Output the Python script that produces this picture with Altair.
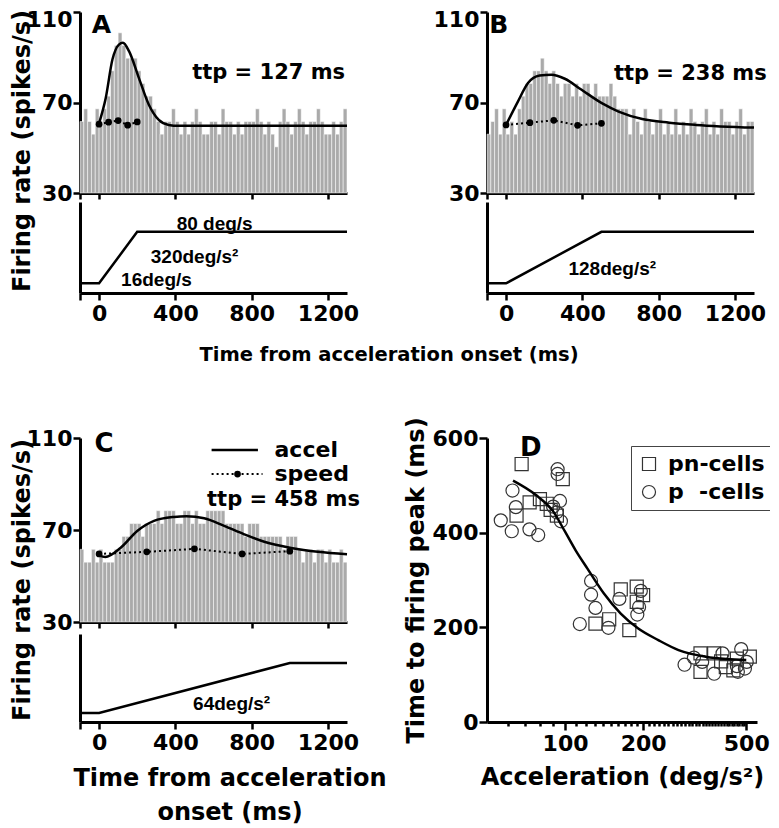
import altair as alt
import pandas as pd

FONT = "DejaVu Sans"
NARROW = "Liberation Sans"

# ---------------- data ----------------
bin_start = list(range(-100, 1300, 20))  # 20 ms bins

rate_A = [61.6, 67.2, 61.6, 56.0, 67.2, 61.6, 67.2, 72.8, 84.0, 95.2,
          100.8, 95.2, 89.6, 89.6, 89.6, 84.0, 78.4, 72.8, 72.8, 67.2,
          61.6, 56.0, 61.6, 61.6, 67.2, 61.6, 56.0, 61.6, 56.0, 61.6,
          67.2, 61.6, 56.0, 56.0, 61.6, 61.6, 56.0, 67.2, 61.6, 61.6,
          56.0, 61.6, 56.0, 61.6, 61.6, 61.6, 67.2, 61.6, 56.0, 61.6,
          56.0, 50.4, 61.6, 67.2, 61.6, 56.0, 61.6, 67.2, 61.6, 56.0,
          61.6, 61.6, 67.2, 61.6, 56.0, 56.0, 61.6, 56.0, 61.6, 67.2]
rate_B = [56.0, 61.6, 67.2, 56.0, 67.2, 56.0, 61.6, 56.0, 67.2, 72.8,
          78.4, 78.4, 84.0, 84.0, 89.6, 84.0, 78.4, 84.0, 78.4, 72.8,
          78.4, 78.4, 72.8, 78.4, 72.8, 78.4, 78.4, 72.8, 78.4, 72.8,
          72.8, 72.8, 78.4, 72.8, 67.2, 67.2, 67.2, 56.0, 67.2, 61.6,
          56.0, 67.2, 61.6, 56.0, 61.6, 67.2, 56.0, 61.6, 56.0, 67.2,
          56.0, 61.6, 56.0, 67.2, 61.6, 56.0, 61.6, 67.2, 56.0, 61.6,
          56.0, 67.2, 61.6, 61.6, 56.0, 61.6, 67.2, 56.0, 61.6, 61.6]
rate_C = [61.6, 56.0, 56.0, 61.6, 56.0, 61.6, 56.0, 56.0, 56.0, 61.6,
          61.6, 67.2, 67.2, 72.8, 72.8, 72.8, 67.2, 72.8, 72.8, 72.8,
          78.4, 72.8, 78.4, 78.4, 78.4, 72.8, 72.8, 78.4, 78.4, 72.8,
          78.4, 72.8, 72.8, 78.4, 78.4, 78.4, 78.4, 78.4, 72.8, 72.8,
          72.8, 72.8, 72.8, 67.2, 72.8, 72.8, 72.8, 67.2, 67.2, 67.2,
          67.2, 67.2, 67.2, 61.6, 67.2, 67.2, 67.2, 61.6, 56.0, 61.6,
          61.6, 56.0, 61.6, 61.6, 56.0, 61.6, 56.0, 56.0, 61.6, 56.0]

fit_A_t = [0, 35, 70, 104, 125, 157, 209, 261, 313, 365, 417, 1300]
fit_A_v = [60.8, 72.0, 89.0, 95.6, 96.4, 92.7, 80.8, 69.0, 62.3, 60.1, 59.7, 59.7]
spd_A_t = [0, 50, 100, 150, 200]
spd_A_v = [60.4, 61.3, 62.0, 60.0, 61.4]
stim_A_t = [-100, 0, 200, 1300]
stim_A_v = [16, 16, 80, 80]

fit_B_t = [0, 62, 115, 176, 238, 308, 396, 502, 590, 714, 855, 996, 1300]
fit_B_v = [60.1, 70.4, 78.6, 81.9, 82.3, 80.5, 75.6, 69.7, 66.0, 62.7, 61.1, 60.1, 58.9]
spd_B_t = [0, 125, 250, 375, 500]
spd_B_v = [60.1, 61.1, 62.1, 59.9, 60.8]
stim_B_t = [-100, 0, 500, 1300]
stim_B_v = [16, 16, 80, 80]

fit_C_t = [0, 33, 112, 200, 288, 393, 458, 551, 656, 761, 866, 1007, 1147, 1300]
fit_C_v = [59.0, 58.3, 62.2, 69.6, 74.0, 75.7, 76.0, 75.1, 71.8, 68.1, 64.9, 62.2, 60.5, 59.5]
spd_C_t = [0, 250, 500, 750, 1000]
spd_C_v = [59.6, 60.5, 61.8, 59.6, 60.8]
stim_C_t = [-100, 0, 1000, 1300]
stim_C_v = [16, 16, 80, 80]

# panel D
pn_acc = [68, 65, 73, 80, 85, 98, 93, 88,
          131, 148, 164, 177, 189, 200, 189,
          333, 333, 376, 417, 446, 516, 460, 400]
pn_ttp = [545, 436, 464, 471, 461, 513, 436, 448,
          208, 217, 280, 194, 286, 268, 254,
          145, 106, 145, 116, 109, 138, 134, 128]
p_acc = [56.5, 62.7, 64.6, 62.3, 72.9, 78.8, 93.6, 93.6, 95.6, 92.8, 96.4, 90,
         114, 126, 126, 131, 147, 162, 196, 193, 190,
         289, 314, 338, 376, 405, 478, 464, 494, 502, 460]
p_ttp = [426, 489, 454, 403, 407, 395, 534, 524, 467, 443, 424, 455,
         207, 298, 269, 241, 199, 260, 277, 243, 227,
         121, 136, 127, 102, 145, 154, 106, 113, 127, 118]
fitD_acc = [63, 77, 90, 100, 110, 122, 141, 164, 191, 229, 274, 349, 420, 500]
fitD_ttp = [510, 480, 445, 402, 362, 324, 272, 229, 198, 173, 152, 138, 133, 131]

P_LABEL = "p\u00a0\u00a0-cells"


def txt(label, font=FONT, size=22, **kw):
    return alt.Chart(pd.DataFrame({"label": [label]})).mark_text(
        font=font, fontSize=size, fontWeight="bold", color="black", **kw
    )


def time_panel(rate, fit_t, fit_v, spd_t, spd_v, stim_t, stim_v,
               hist_h, total_h, stim_top, stim_domain,
               hist_extra, stim_extra, top_offset=0):
    xs = alt.Scale(domain=[-100, 1300], nice=False, zero=False)
    ax_hx = alt.Axis(orient="bottom", offset=hist_h - total_h,
                     values=[-100, 0, 400, 800, 1200], labels=False,
                     tickSize=6, title=None)
    ax_sx = alt.Axis(orient="bottom", values=[-100, 0, 400, 800, 1200], format="d",
                     labelExpr="datum.value < 0 ? '' : datum.label",
                     tickSize=7, labelPadding=3, title=None)
    ys_h = alt.Scale(domain=[30, 110], range=[hist_h, 0], nice=False, zero=False)
    ax_hy = alt.Axis(orient="left", values=[30, 70, 110], tickSize=7,
                     labelPadding=1, title=None,
                     labelOffset={"condition": {"test": "datum.value == 110", "value": top_offset},
                                  "value": 0})
    ys_s = alt.Scale(domain=stim_domain, range=[total_h, stim_top], nice=False, zero=False)
    ax_sy = alt.Axis(orient="left", labels=False, ticks=False, title=None)

    hist_df = pd.DataFrame({"t": bin_start, "rate": rate})
    bars = alt.Chart(hist_df).transform_calculate(t2="datum.t + 20").mark_bar(
        color="#aaaaaa", stroke="white", strokeWidth=0.5
    ).encode(
        x=alt.X("t:Q", scale=xs, axis=ax_hx),
        x2="t2:Q",
        y=alt.Y("rate:Q", scale=ys_h, axis=ax_hy),
        y2=alt.Y2Datum(30),
    )
    fit = alt.Chart(pd.DataFrame({"t": fit_t, "rate": fit_v})).mark_line(
        color="black", strokeWidth=2.5, interpolate="monotone"
    ).encode(x=alt.X("t:Q", scale=xs, axis=ax_hx), y=alt.Y("rate:Q", scale=ys_h, axis=ax_hy))
    spd_df = pd.DataFrame({"t": spd_t, "rate": spd_v})
    spd_line = alt.Chart(spd_df).mark_line(
        color="black", strokeWidth=2, strokeDash=[2, 3]
    ).encode(x=alt.X("t:Q", scale=xs, axis=ax_hx), y=alt.Y("rate:Q", scale=ys_h, axis=ax_hy))
    spd_pts = alt.Chart(spd_df).mark_circle(color="black", size=45, opacity=1).encode(
        x=alt.X("t:Q", scale=xs, axis=ax_hx), y=alt.Y("rate:Q", scale=ys_h, axis=ax_hy))
    hist_group = alt.layer(bars, fit, spd_line, spd_pts, *hist_extra)

    stim_line = alt.Chart(pd.DataFrame({"t": stim_t, "v": stim_v})).mark_line(
        color="black", strokeWidth=2.5
    ).encode(x=alt.X("t:Q", scale=xs, axis=ax_sx), y=alt.Y("v:Q", scale=ys_s, axis=ax_sy))
    stim_group = alt.layer(stim_line, *stim_extra)

    return alt.layer(hist_group, stim_group).resolve_scale(
        x="independent", y="independent"
    ).properties(width=267, height=total_h)


def at(ch, x, y):
    return ch.encode(text="label:N", x=alt.XDatum(x), y=alt.YDatum(y))


def px(ch, x, y):
    return ch.encode(text="label:N", x=alt.value(x), y=alt.value(y))


# ---- Panel A ----
A = time_panel(
    rate_A, fit_A_t, fit_A_v, spd_A_t, spd_A_v, stim_A_t, stim_A_v,
    181, 281, 190, [4, 117],
    hist_extra=[
        at(txt("A", size=25, align="left", baseline="middle"), -39, 104.2),
        at(txt("ttp = 127 ms", size=21, align="center", baseline="middle"), 889, 83),
    ],
    stim_extra=[
        at(txt("80 deg/s", font=NARROW, size=19, align="center", baseline="middle"), 606, 90),
        at(txt("320deg/s²", font=NARROW, size=19, align="center", baseline="middle"), 501, 48.6),
        at(txt("16deg/s", font=NARROW, size=19, align="center", baseline="middle"), 301, 19.8),
        px(txt("Firing rate (spikes/s)", size=24, angle=270, align="center", baseline="middle"), -57, 139),
        px(txt("Time from acceleration onset (ms)", size=19.5, align="center", baseline="middle"), 309, 343),
    ],
    top_offset=7,
)

# ---- Panel B ----
B = time_panel(
    rate_B, fit_B_t, fit_B_v, spd_B_t, spd_B_v, stim_B_t, stim_B_v,
    181, 281, 190, [4, 117],
    hist_extra=[
        at(txt("B", size=25, align="left", baseline="middle"), -88, 104.2),
        at(txt("ttp = 238 ms", size=21, align="center", baseline="middle"), 966, 82.6),
    ],
    stim_extra=[
        at(txt("128deg/s²", font=NARROW, size=19, align="center", baseline="middle"), 557, 33.6),
    ],
    top_offset=7,
)

# ---- Panel C ----
leg_accel = alt.Chart(pd.DataFrame({"k": [0]})).mark_rule(color="black", strokeWidth=2.5).encode(
    x=alt.XDatum(590), x2=alt.X2Datum(833), y=alt.YDatum(104.8))
leg_speed = alt.Chart(pd.DataFrame({"k": [0]})).mark_rule(
    color="black", strokeWidth=2, strokeDash=[2, 3]).encode(
    x=alt.XDatum(590), x2=alt.X2Datum(857), y=alt.YDatum(94.3))
leg_dot = alt.Chart(pd.DataFrame({"k": [0]})).mark_circle(color="black", size=45, opacity=1).encode(
    x=alt.XDatum(726), y=alt.YDatum(94.3))

C = time_panel(
    rate_C, fit_C_t, fit_C_v, spd_C_t, spd_C_v, stim_C_t, stim_C_v,
    184, 284, 196, [4.5, 117.1],
    hist_extra=[
        at(txt("C", size=26, align="left", baseline="middle"), -24, 107.4),
        leg_accel, leg_speed, leg_dot,
        at(txt("accel", size=22, align="left", baseline="middle"), 920, 104.8),
        at(txt("speed", size=22, align="left", baseline="middle"), 920, 94.3),
        at(txt("ttp = 458 ms", size=21, align="center", baseline="middle"), 967, 83),
    ],
    stim_extra=[
        at(txt("64deg/s²", font=NARROW, size=19, align="center", baseline="middle"), 695, 27.5),
        px(txt("Firing rate (spikes/s)", size=24, angle=270, align="center", baseline="middle"), -57, 142),
        px(txt("Time from acceleration", size=24, align="center", baseline="middle"), 150, 341),
        px(txt("onset (ms)", size=24, align="center", baseline="middle"), 150, 375),
    ],
)

# ---- Panel D ----
d_df = pd.DataFrame({
    "acc": pn_acc + p_acc,
    "ttp": pn_ttp + p_ttp,
    "cell": ["pn-cells"] * len(pn_acc) + [P_LABEL] * len(p_acc),
})
xd = alt.Scale(type="log", domain=[50, 550], nice=False)
yd = alt.Scale(domain=[0, 600], nice=False, zero=False)
minor = list(range(60, 501, 10))
ax_dx = alt.Axis(
    orient="bottom", values=minor, format="d",
    labelExpr="(datum.value == 100 || datum.value == 200 || datum.value == 500) ? datum.label : ''",
    tickSize={"condition": {"test": "datum.value == 100 || datum.value == 200 || datum.value == 500",
                            "value": 8}, "value": 4},
    labelPadding=3, title="Acceleration (deg/s²)", titleFont=FONT, titleFontSize=24,
    titleFontWeight="bold", titlePadding=11, titleColor="black", labelFlush=False, labelOverlap=False,
)
ax_dy = alt.Axis(orient="left", values=[0, 200, 400, 600], tickSize=8, labelPadding=1,
                 title="Time to firing peak (ms)", titleFont=FONT, titleFontSize=24,
                 titleFontWeight="bold", titlePadding=4, titleColor="black")

scatter = alt.Chart(d_df).mark_point(filled=False, strokeWidth=1.2, size=170, opacity=1).encode(
    x=alt.X("acc:Q", scale=xd, axis=ax_dx),
    y=alt.Y("ttp:Q", scale=yd, axis=ax_dy),
    shape=alt.Shape("cell:N", scale=alt.Scale(domain=["pn-cells", P_LABEL], range=["square", "circle"]),
                    legend=alt.Legend(orient="none", legendX=551, legendY=434, title=None,
                                      strokeColor="#444", padding=7, labelFont=FONT, labelFontSize=22,
                                      labelFontWeight="bold", labelColor="black", symbolSize=170,
                                      symbolStrokeWidth=1.2, symbolStrokeColor="#333",
                                      rowPadding=6, labelOffset=8)),
    color=alt.value("#333333"),
)
fitD = alt.Chart(pd.DataFrame({"acc": fitD_acc, "ttp": fitD_ttp})).mark_line(
    color="black", strokeWidth=2.5, interpolate="monotone"
).encode(x=alt.X("acc:Q", scale=xd, axis=ax_dx), y=alt.Y("ttp:Q", scale=yd, axis=ax_dy))
labelD = px(txt("D", size=26, align="left", baseline="middle"), 33, 10)

D = alt.layer(scatter, fitD, labelD).properties(width=270, height=284)

chart = alt.concat(
    A, B, C, D, columns=2, spacing={"row": 145, "column": 140}, bounds="flush", align="each"
).properties(
    autosize=alt.AutoSizeParams(type="none"),
    padding={"left": 72, "top": 4, "right": 690, "bottom": 816},
).configure_view(stroke=None).configure_axis(
    grid=False, domainColor="black", tickColor="black", labelColor="black",
    labelFont=FONT, labelFontSize=22, labelFontWeight="bold",
    domainWidth=3, tickWidth=2.5,
)

chart.save("out.html", embed_options={"renderer": "svg", "actions": False})
